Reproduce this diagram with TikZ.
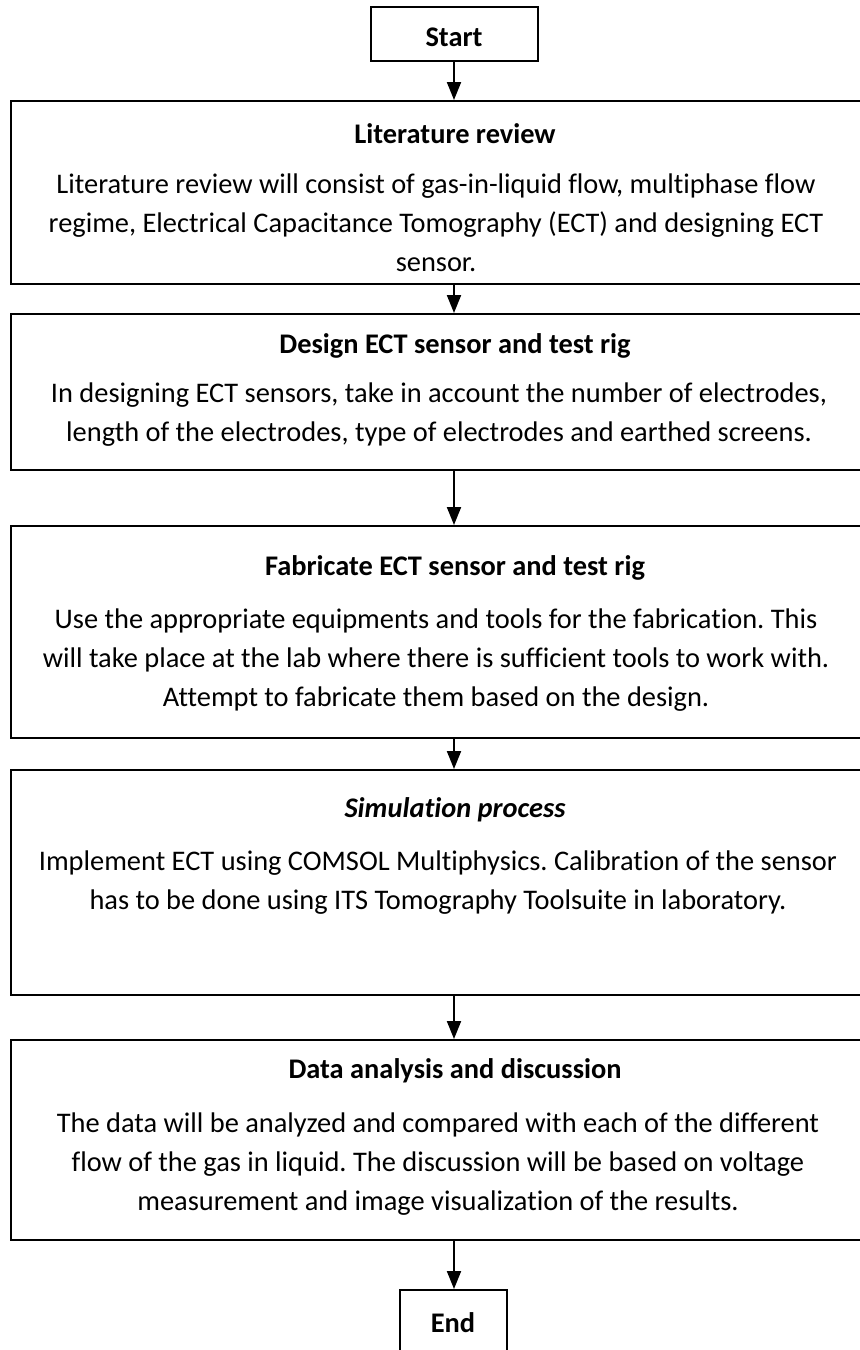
\documentclass[tikz,border=0pt]{standalone}
\usepackage{fontspec}
\setmainfont{Carlito}[Ligatures=NoCommon]
\frenchspacing
\usetikzlibrary{arrows.meta}

\tikzset{
  stage/.style={draw, line width=1pt, anchor=north west, minimum width=435pt, inner sep=0pt},
  term/.style={draw, line width=1pt, anchor=north, inner sep=0pt},
  head/.style={font=\fontsize{14.2}{19.5}\selectfont\bfseries},
  body/.style={align=center},
  flow/.style={line width=1pt, -{Triangle[width=7pt,length=9pt]}}
}

\begin{document}
\begin{tikzpicture}[x=0.5pt, y=-0.5pt, font=\fontsize{14.2}{19.5}\selectfont]
  \useasboundingbox (0,0) rectangle (860,1350);
  \clip (0,0) rectangle (860,1350);

  % start / end
  \node[term, minimum width=83.5pt, minimum height=27pt] (start) at (454,6) {};
  \node[head] (start-t) at (454,37) {Start};

  % the stages
  \node[stage, minimum height=91.5pt] (lit) at (10,100) {};
  \node[head] (lit-t) at (455,134) {Literature review};
  \node[body] (lit-b) at (436,223) {Literature review will consist of gas-in-liquid flow, multiphase flow\\
    regime, Electrical Capacitance Tomography (ECT) and designing ECT\\ sensor.};

  \node[stage, minimum height=78pt] (design) at (10,313) {};
  \node[head] (design-t) at (455,346) {Design ECT sensor and test rig};
  \node[body] (design-b) at (439,415) {In designing ECT sensors, take in account the number of electrodes,\\
    length of the electrodes, type of electrodes and earthed screens.};

  \node[stage, minimum height=106pt] (fab) at (10,525) {};
  \node[head] (fab-t) at (455,568) {Fabricate ECT sensor and test rig};
  \node[body] (fab-b) at (436,660) {Use the appropriate equipments and tools for the fabrication. This\\
    will take place at the lab where there is sufficient tools to work with.\\
    Attempt to fabricate them based on the design.};

  \node[stage, minimum height=112.5pt] (sim) at (10,769) {};
  \node[head, font=\fontsize{14.2}{19.5}\selectfont\bfseries\itshape] (sim-t) at (455,810) {Simulation process};
  \node[body] (sim-b) at (438,883) {Implement ECT using COMSOL Multiphysics. Calibration of the sensor\\
    has to be done using ITS Tomography Toolsuite in laboratory.};

  \node[stage, minimum height=100pt] (data) at (10,1039) {};
  \node[head] (data-t) at (455,1071) {Data analysis and discussion};
  \node[body] (data-b) at (438,1164) {The data will be analyzed and compared with each of the different\\
    flow of the gas in liquid. The discussion will be based on voltage\\
    measurement and image visualization of the results.};

  \node[term, minimum width=53.5pt, minimum height=40.5pt] (stop) at (453,1289) {};
  \node[head] (stop-t) at (453,1323) {End};

  % arrows
  \draw[flow] (start.south) -- (lit.north -| start.south);
  \draw[flow] (lit.south -| start.south) -- (design.north -| start.south);
  \draw[flow] (design.south -| start.south) -- (fab.north -| start.south);
  \draw[flow] (fab.south -| start.south) -- (sim.north -| start.south);
  \draw[flow] (sim.south -| start.south) -- (data.north -| start.south);
  \draw[flow] (data.south -| start.south) -- (stop.north -| start.south);
\end{tikzpicture}
\end{document}
